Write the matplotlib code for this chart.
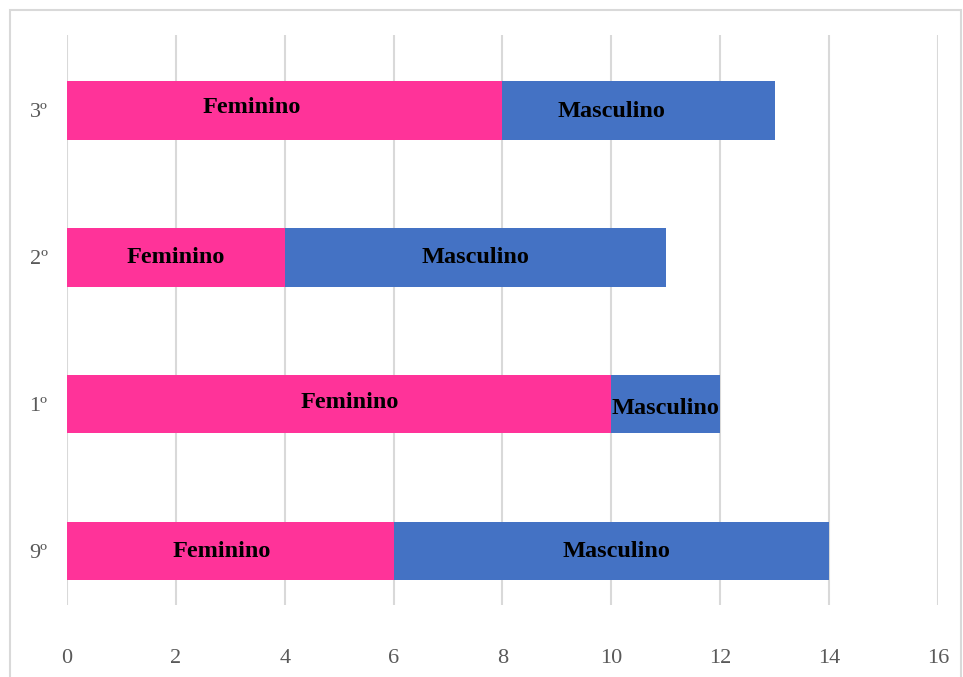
import numpy as np
import matplotlib.pyplot as plt
from matplotlib.patches import Rectangle

turmas = ["9º", "1º", "2º", "3º"]
feminino = [6, 10, 4, 8]
masculino = [8, 2, 7, 5]

# small nudges of the in-bar labels (data units along x, points along y)
fem_dx = [-0.15, 0.2, 0.0, -0.6]
fem_dy = [0, 1, 0, 2]
masc_dx = [0.1, 0.0, 0.0, -0.5]
masc_dy = [0, -3, 0, -1]

rosa = "#FF3399"
azul = "#4472C4"

fig = plt.figure(figsize=(9.63, 6.77), dpi=100)
ax = fig.add_axes([0.0696, 0.1064, 0.9044, 0.8416])

y = np.arange(len(turmas))
ax.barh(y, feminino, height=0.4, color=rosa, zorder=3)
ax.barh(y, masculino, left=feminino, height=0.4, color=azul, zorder=3)

lbl = dict(fontfamily="Liberation Serif", fontweight="bold", fontsize=17.5,
           color="black", ha="center", va="center", zorder=4)
for i in range(len(turmas)):
    ax.annotate("Feminino", (feminino[i] / 2 + fem_dx[i], y[i]),
                xytext=(0, fem_dy[i]), textcoords="offset points", **lbl)
    ax.annotate("Masculino", (feminino[i] + masculino[i] / 2 + masc_dx[i], y[i]),
                xytext=(0, masc_dy[i]), textcoords="offset points", **lbl)

ax.set_xlim(0, 16)
ax.set_ylim(-0.367, 3.51)
ax.set_xticks(np.arange(0, 17, 2))
ax.set_yticks(y)
ax.set_yticklabels(turmas)
ax.xaxis.grid(True, color="#d9d9d9", linewidth=1.5, zorder=0)
for s in ax.spines.values():
    s.set_visible(False)
ax.tick_params(axis="both", length=0, labelsize=16, labelcolor="#595959")
ax.tick_params(axis="x", pad=32)
ax.tick_params(axis="y", pad=14)
for t in ax.get_xticklabels() + ax.get_yticklabels():
    t.set_fontfamily("Liberation Serif")

fig.patches.append(Rectangle((0.0104, -0.02), 0.9875, 1.005, transform=fig.transFigure,
                             fill=False, edgecolor="#d9d9d9", linewidth=1.5))

plt.savefig("out.png", dpi=100)
